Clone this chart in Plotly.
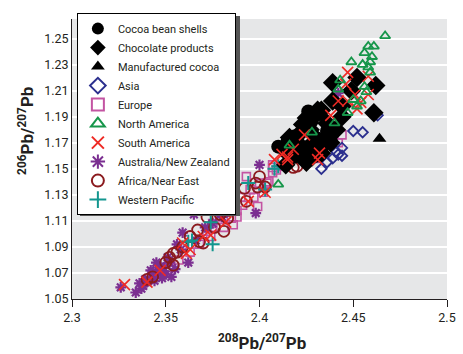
import plotly.graph_objects as go

# ---------------- data (208Pb/207Pb, 206Pb/207Pb) ----------------
cocoa_x = [2.410, 2.415, 2.419, 2.424, 2.428, 2.422, 2.427, 2.431, 2.436, 2.430,
           2.418, 2.424, 2.433, 2.438, 2.414, 2.421, 2.432, 2.426]
cocoa_y = [1.167, 1.171, 1.175, 1.182, 1.187, 1.163, 1.168, 1.173, 1.179, 1.160,
           1.159, 1.157, 1.165, 1.171, 1.163, 1.169, 1.192, 1.194]

choc_x = [2.452, 2.462, 2.439, 2.449, 2.461, 2.439, 2.433, 2.444, 2.425, 2.431,
          2.423, 2.427, 2.436, 2.444, 2.431, 2.436, 2.420, 2.416, 2.423, 2.431,
          2.438, 2.428, 2.433, 2.425, 2.419, 2.441, 2.414]
choc_y = [1.220, 1.214, 1.216, 1.210, 1.193, 1.202, 1.195, 1.198, 1.189, 1.195,
          1.184, 1.180, 1.185, 1.190, 1.172, 1.172, 1.175, 1.174, 1.165, 1.166,
          1.170, 1.159, 1.162, 1.155, 1.167, 1.180, 1.153]

manu_x = [2.464]
manu_y = [1.173]

asia_x = [2.450, 2.455, 2.442, 2.439, 2.444, 2.433, 2.463, 2.444, 2.441, 2.436]
asia_y = [1.179, 1.178, 1.161, 1.158, 1.166, 1.150, 1.191, 1.160, 1.163, 1.155]

europe_x = [2.393, 2.400, 2.407, 2.405, 2.395, 2.390, 2.386, 2.383, 2.382, 2.388,
            2.397, 2.402, 2.399, 2.391, 2.379, 2.381, 2.375, 2.444, 2.442, 2.407,
            2.413, 2.407, 2.409, 2.388, 2.375, 2.386, 2.372, 2.404, 2.385, 2.374,
            2.368, 2.363, 2.357, 2.352, 2.430]
europe_y = [1.144, 1.139, 1.147, 1.140, 1.134, 1.128, 1.125, 1.121, 1.117, 1.118,
            1.128, 1.132, 1.121, 1.122, 1.113, 1.105, 1.108, 1.176, 1.170, 1.151,
            1.152, 1.153, 1.149, 1.113, 1.105, 1.107, 1.102, 1.139, 1.112, 1.098,
            1.092, 1.086, 1.080, 1.074, 1.158]

namer_x = [2.467, 2.458, 2.461, 2.456, 2.449, 2.460, 2.459, 2.455, 2.458, 2.443,
           2.456, 2.457, 2.454, 2.452, 2.450, 2.410, 2.440, 2.428, 2.416, 2.442,
           2.447, 2.459]
namer_y = [1.252, 1.244, 1.244, 1.239, 1.232, 1.236, 1.232, 1.230, 1.228, 1.218,
           1.213, 1.209, 1.202, 1.198, 1.203, 1.138, 1.185, 1.178, 1.168, 1.211,
           1.193, 1.224]

samer_x = [2.447, 2.458, 2.446, 2.451, 2.458, 2.454, 2.447, 2.442, 2.452,
           2.412, 2.415, 2.432, 2.431, 2.418, 2.438, 2.424, 2.408,
           2.394, 2.403, 2.374, 2.370, 2.363, 2.361, 2.359, 2.340, 2.328,
           2.415, 2.347, 2.382]
samer_y = [1.224, 1.221, 1.215, 1.207, 1.207, 1.201, 1.202, 1.202, 1.196,
           1.161, 1.157, 1.162, 1.157, 1.165, 1.191, 1.176, 1.157,
           1.125, 1.132, 1.099, 1.098, 1.088, 1.085, 1.093, 1.063, 1.061,
           1.159, 1.072, 1.109]

aus_x = [2.326, 2.334, 2.337, 2.340, 2.343, 2.346, 2.349, 2.352, 2.353, 2.362,
         2.356, 2.342, 2.365, 2.398, 2.339, 2.343, 2.347, 2.359, 2.400, 2.442,
         2.351, 2.358, 2.366, 2.371, 2.336, 2.345, 2.344, 2.350, 2.355, 2.348,
         2.338, 2.375, 2.380]
aus_y = [1.059, 1.055, 1.058, 1.063, 1.067, 1.070, 1.074, 1.078, 1.067, 1.078,
         1.092, 1.072, 1.115, 1.116, 1.065, 1.071, 1.075, 1.101, 1.153, 1.208,
         1.082, 1.088, 1.095, 1.105, 1.062, 1.078, 1.064, 1.069, 1.073, 1.066,
         1.060, 1.108, 1.113]

africa_x = [2.340, 2.343, 2.350, 2.352, 2.354, 2.354, 2.359, 2.368, 2.363, 2.367,
            2.372, 2.379, 2.383, 2.376, 2.381, 2.370, 2.393, 2.400, 2.399, 2.384,
            2.398, 2.403, 2.392, 2.418, 2.420, 2.356]
africa_y = [1.065, 1.067, 1.078, 1.082, 1.076, 1.085, 1.090, 1.094, 1.098, 1.103,
            1.113, 1.115, 1.112, 1.105, 1.102, 1.093, 1.125, 1.144, 1.136, 1.118,
            1.139, 1.136, 1.135, 1.151, 1.152, 1.086]

wpac_x = [2.394, 2.403, 2.374, 2.362, 2.364, 2.375, 2.410, 2.417, 2.408]
wpac_y = [1.139, 1.134, 1.109, 1.094, 1.095, 1.092, 1.152, 1.168, 1.150]

y_ticks = [1.05, 1.07, 1.09, 1.11, 1.13, 1.15, 1.17, 1.19, 1.21, 1.23, 1.25]
x_ticks = [2.3, 2.35, 2.4, 2.45, 2.5]

# ---------------- styles ----------------
FONT = "Roboto, Liberation Sans, sans-serif"
TXT = "#231f20"

series = [
    # name, x, y, symbol, color, size, line width, rank
    ("Europe", europe_x, europe_y, "square-open", "#c354a2", 8, 1.6, 5),
    ("Australia/New Zealand", aus_x, aus_y, "asterisk-open", "#7b2f91", 9, 2.2, 8),
    ("Africa/Near East", africa_x, africa_y, "circle-open", "#8b1a1e", 11, 1.8, 9),
    ("Western Pacific", wpac_x, wpac_y, "cross-thin-open", "#13968f", 10, 2.0, 10),
    ("Asia", asia_x, asia_y, "diamond-open", "#2b2f8e", 8, 1.8, 4),
    ("Cocoa bean shells", cocoa_x, cocoa_y, "circle", "#000000", 14, 0, 1),
    ("Chocolate products", choc_x, choc_y, "diamond", "#000000", 15, 0, 2),
    ("Manufactured cocoa", manu_x, manu_y, "triangle-up", "#000000", 12, 0, 3),
    ("South America", samer_x, samer_y, "x-thin-open", "#ee2a24", 11, 1.6, 7),
    ("North America", namer_x, namer_y, "triangle-up-open", "#16964a", 9, 1.8, 6),
]

fig = go.Figure()
for name, xs, ys, sym, col, size, lw, rank in series:
    fig.add_trace(go.Scatter(
        x=xs, y=ys, mode="markers", name=name, legendrank=rank,
        marker=dict(symbol=sym, size=size, color=col,
                    line=dict(color=col, width=lw)),
    ))

# legend drop shadow
fig.add_shape(type="rect", xref="paper", yref="paper",
              x0=0.0213, x1=0.448, y0=0.296, y1=1.011,
              fillcolor="#555555", line=dict(width=0), layer="above")

# axis titles
fig.add_annotation(text="<b><sup>208</sup>Pb/<sup>207</sup>Pb</b>", xref="paper", yref="paper",
                   x=0.507, y=-0.152, xanchor="center", yanchor="middle",
                   showarrow=False, font=dict(size=17, family=FONT, color=TXT))
fig.add_annotation(text="<b><sup>206</sup>Pb/<sup>207</sup>Pb</b>", xref="paper", yref="paper",
                   x=-0.123, y=0.60, xanchor="center", yanchor="middle", textangle=-90,
                   showarrow=False, font=dict(size=17, family=FONT, color=TXT))

fig.update_layout(
    width=463, height=354,
    margin=dict(l=72, r=16, t=19, b=55),
    paper_bgcolor="white", plot_bgcolor="#e6e7e8",
    font=dict(family=FONT, color=TXT, size=12),
    showlegend=True,
    legend=dict(x=0.013, y=1.021, xanchor="left", yanchor="top",
                bgcolor="white", bordercolor="#000000", borderwidth=1,
                font=dict(family=FONT, size=11, color=TXT),
                itemwidth=30, tracegroupgap=0, itemsizing="constant",
                maxheight=400),
    xaxis=dict(range=[2.3, 2.5], tickvals=x_ticks, ticktext=[str(v) for v in x_ticks],
               showgrid=False, zeroline=False, showline=True, linecolor="#231f20",
               linewidth=1, ticks="outside", ticklen=7, tickcolor="#231f20",
               tickfont=dict(size=12.5), automargin=False),
    yaxis=dict(range=[1.05, 1.265], tickvals=y_ticks,
               ticktext=["%.2f" % v for v in y_ticks],
               showgrid=True, gridcolor="white", gridwidth=2, zeroline=False,
               showline=True, linecolor="#231f20", linewidth=1, ticks="",
               tickfont=dict(size=12.5), automargin=False),
)

fig.write_html("out.html", config={"displayModeBar": False},
               post_script="document.body.style.margin='0px';")
